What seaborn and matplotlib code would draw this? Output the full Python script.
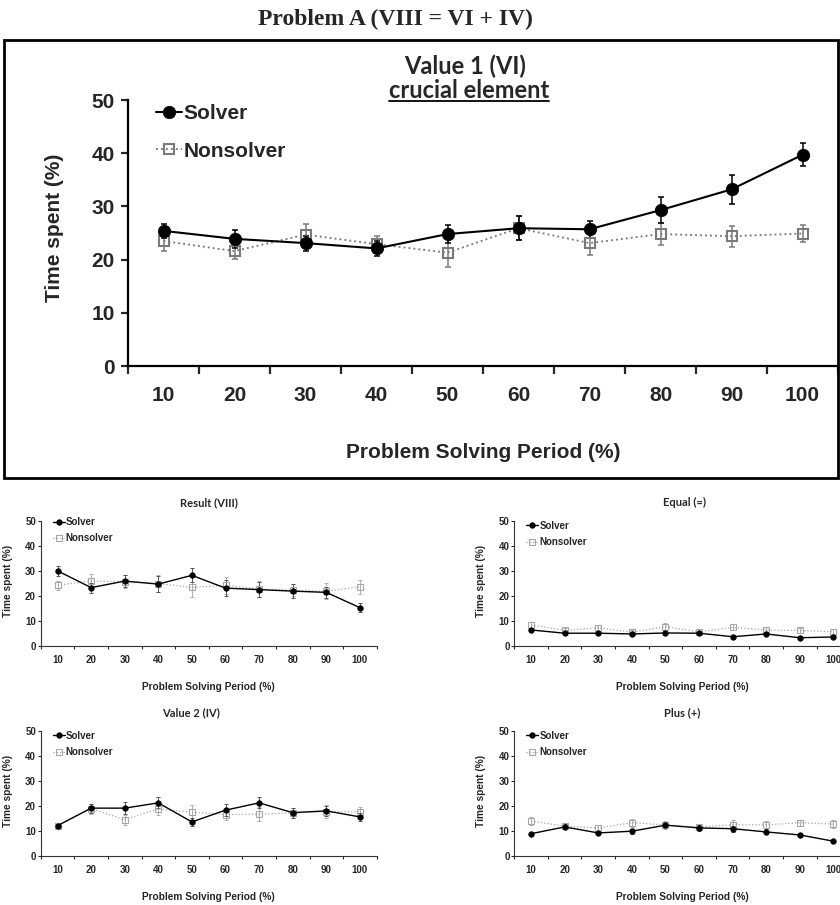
import numpy as np
import pandas as pd
import seaborn as sns
import matplotlib.pyplot as plt
from matplotlib.patches import Rectangle
from matplotlib.lines import Line2D

periods = [10, 20, 30, 40, 50, 60, 70, 80, 90, 100]

# Value 1 (VI) - large panel
v1_solver = [25.4, 23.9, 23.1, 22.1, 24.8, 25.9, 25.7, 29.3, 33.2, 39.7]
v1_solver_err = [1.3, 1.7, 1.4, 1.4, 1.7, 2.3, 1.6, 2.5, 2.7, 2.2]
v1_nonsolver = [23.5, 21.6, 24.7, 22.9, 21.3, 25.9, 23.1, 24.8, 24.4, 24.9]
v1_nonsolver_err = [1.8, 1.5, 2.0, 1.5, 2.6, 2.3, 2.2, 2.1, 2.0, 1.6]

# Result (VIII)
res_solver = [30.0, 23.3, 25.9, 24.7, 28.2, 23.1, 22.5, 21.9, 21.4, 15.3]
res_solver_err = [2.0, 2.0, 2.5, 3.2, 2.8, 3.2, 3.0, 2.8, 2.2, 1.8]
res_nonsolver = [24.3, 25.9, 25.7, 24.9, 23.4, 24.2, 22.7, 22.3, 21.8, 23.7]
res_nonsolver_err = [1.8, 2.7, 2.5, 3.3, 4.0, 3.5, 3.2, 2.5, 3.2, 2.8]

# Equal (=)
eq_solver = [6.4, 5.1, 5.1, 4.8, 5.2, 5.1, 3.7, 4.8, 3.3, 3.6]
eq_solver_err = [0.6, 0.6, 0.6, 0.6, 0.6, 0.6, 0.6, 0.6, 0.6, 0.6]
eq_nonsolver = [8.4, 6.2, 7.3, 5.5, 7.7, 5.7, 7.4, 6.4, 6.2, 5.7]
eq_nonsolver_err = [1.3, 1.0, 1.2, 0.8, 1.3, 0.9, 1.2, 1.0, 1.0, 1.0]

# Value 2 (IV)
v2_solver = [12.1, 19.1, 19.1, 21.2, 13.6, 18.3, 21.2, 17.3, 18.0, 15.6]
v2_solver_err = [0.8, 1.8, 2.5, 2.2, 1.5, 2.5, 2.2, 2.0, 2.0, 1.6]
v2_nonsolver = [12.1, 18.9, 14.5, 18.8, 17.5, 16.5, 16.7, 17.2, 17.7, 17.6]
v2_nonsolver_err = [0.8, 2.0, 2.0, 2.3, 3.0, 2.3, 2.8, 2.0, 2.5, 2.0]

# Plus (+)
plus_solver = [8.9, 11.6, 9.2, 9.9, 12.3, 11.2, 10.9, 9.6, 8.4, 5.9]
plus_solver_err = [0.8, 1.0, 0.9, 1.0, 1.2, 1.2, 1.2, 1.0, 0.8, 0.6]
plus_nonsolver = [14.0, 11.9, 11.2, 13.3, 12.4, 11.6, 12.5, 12.4, 13.3, 12.7]
plus_nonsolver_err = [1.5, 1.2, 1.3, 1.6, 1.5, 1.2, 1.8, 1.4, 1.2, 1.6]

sns.set_style('white')
plt.rcParams['font.family'] = ['Liberation Sans', 'DejaVu Sans']
plt.rcParams['font.weight'] = 'bold'

W, H = 840, 905
fig = plt.figure(figsize=(W / 100, H / 100), dpi=100)


def px_axes(left, top, right, bottom):
    return fig.add_axes([left / W, 1 - bottom / H, (right - left) / W, (bottom - top) / H])


def draw_panel(ax, solver, s_err, nonsolver, n_err, big=False):
    if big:
        ms_c, ms_s, lw, cap, elw, fs, grey, egrey, sgrey = 9, 7.5, 1.5, 2.5, 1.1, 15, '#7a7a7a', '#7a7a7a', 'black'
    else:
        ms_c, ms_s, lw, cap, elw, fs, grey, egrey, sgrey = 4, 4.5, 1.0, 1.5, 0.7, 7, '#a6a6a6', '#b0b0b0', '#555555'
    ax.errorbar(periods, nonsolver, yerr=n_err, fmt='none', ecolor=egrey,
                elinewidth=elw, capsize=cap, capthick=elw, zorder=2)
    ax.errorbar(periods, solver, yerr=s_err, fmt='none', ecolor=sgrey,
                elinewidth=elw, capsize=cap, capthick=elw, zorder=2)
    sns.lineplot(x=periods, y=solver, ax=ax, color='black', marker='o',
                 markersize=ms_c, markeredgecolor='black', markeredgewidth=0.5,
                 linewidth=lw, label='Solver', zorder=4)
    sns.lineplot(x=periods, y=nonsolver, ax=ax, color=grey, linestyle=':',
                 marker='s', markersize=ms_s, markerfacecolor='none',
                 markeredgecolor=grey, markeredgewidth=1.5 if big else 0.8,
                 linewidth=lw * 0.9, label='Nonsolver', zorder=3)

    ax.set_xlim(5, 105)
    ax.set_ylim(0, 50)
    ax.set_yticks(range(0, 51, 10))
    ax.set_xticks(np.arange(5, 106, 10))
    ax.set_xticklabels([])
    ax.set_xticks(periods, minor=True)
    ax.set_xticklabels([str(p) for p in periods], minor=True)
    for s in ['top', 'right']:
        ax.spines[s].set_visible(False)
    spine_w = 1.6 if big else 0.8
    for s in ['left', 'bottom']:
        ax.spines[s].set_color('black' if big else '#333333')
        ax.spines[s].set_linewidth(spine_w)
    if big:
        ax.tick_params(axis='x', which='major', length=6, width=1.6, direction='out', bottom=True)
        ax.tick_params(axis='x', which='minor', length=0, pad=14.5, labelsize=fs)
        ax.tick_params(axis='y', length=5, width=1.6, direction='out', left=True, pad=4.5, labelsize=fs)
    else:
        ax.tick_params(axis='x', which='major', length=2.5, width=0.8, direction='out', bottom=True)
        ax.tick_params(axis='x', which='minor', length=0, pad=6.8, labelsize=fs)
        ax.tick_params(axis='y', length=2.2, width=0.8, direction='out', left=True, pad=1.2, labelsize=fs)
    for lab in ax.get_xticklabels(minor=True) + ax.get_yticklabels():
        lab.set_fontweight('bold')

    ax.set_xlabel('Problem Solving Period (%)', fontsize=fs if big else 7.3,
                  fontweight='bold', va='center')
    ax.set_ylabel('Time spent (%)', fontsize=fs if big else 7.3,
                  fontweight='bold', va='center')
    ax.xaxis.set_label_coords(0.5, -0.327)
    ax.yaxis.set_label_coords(-0.104 if big else -0.098, 0.52)


def add_legend(ax, x, y, big=False):
    if big:
        ax.legend(loc='upper left', bbox_to_anchor=(x, y), frameon=False,
                  prop={'size': 15, 'weight': 'bold'}, handlelength=1.25,
                  handletextpad=0.08, labelspacing=0.9, borderpad=0, borderaxespad=0)
    else:
        ax.legend(loc='upper left', bbox_to_anchor=(x, y), frameon=False,
                  prop={'size': 7, 'weight': 'bold'}, handlelength=1.25,
                  handletextpad=0.1, labelspacing=0.65, borderpad=0, borderaxespad=0)


# big panel
ax_main = px_axes(128, 100, 838, 366)
draw_panel(ax_main, v1_solver, v1_solver_err, v1_nonsolver, v1_nonsolver_err, big=True)
add_legend(ax_main, 28 / 710, 0.985, big=True)

# small panels
small = [
    ((40.7, 520.7), 'Result (VIII)', 0.5, 1.03,
     res_solver, res_solver_err, res_nonsolver, res_nonsolver_err),
    ((514.3, 520.7), 'Equal (=)', 0.508, 1.0,
     eq_solver, eq_solver_err, eq_nonsolver, eq_nonsolver_err),
    ((40.7, 730.7), 'Value 2 (IV)', 0.447, 1.0,
     v2_solver, v2_solver_err, v2_nonsolver, v2_nonsolver_err),
    ((514.3, 730.7), 'Plus (+)', 0.5, 1.0,
     plus_solver, plus_solver_err, plus_nonsolver, plus_nonsolver_err),
]
for (left, top), title, tx, ly, s, se, n, ne in small:
    ax = px_axes(left, top, left + 336, top + 125.3)
    draw_panel(ax, s, se, n, ne)
    add_legend(ax, 12 / 336, ly)
    ax.text(tx, 1.147, title, transform=ax.transAxes, ha='center', va='center',
            fontsize=8, fontweight='bold', family=['Lato', 'DejaVu Sans'])

# frame around the big panel
fig.add_artist(Rectangle((4 / W, 1 - 478 / H), 834 / W, 438 / H, transform=fig.transFigure,
                         fill=False, edgecolor='black', linewidth=2))

fig.text(395 / W, 1 - 19 / H, 'Problem A (VIII = VI + IV)', ha='center', va='center',
         fontsize=17, fontweight='bold', family=['Liberation Serif', 'DejaVu Serif'])
fig.text(465 / W, 1 - 66 / H, 'Value 1 (VI)', ha='center', va='center',
         fontsize=17, fontweight='bold', family=['Lato', 'DejaVu Sans'])
crucial = fig.text(469 / W, 1 - 91 / H, 'crucial element', ha='center', va='center',
                   fontsize=17, fontweight='bold', family=['Lato', 'DejaVu Sans'])

fig.canvas.draw()
bb = crucial.get_window_extent()
inv = fig.transFigure.inverted()
(x0, y0), (x1, _) = inv.transform([[bb.x0, bb.y0], [bb.x1, bb.y0]])
fig.add_artist(Line2D([x0, x1], [y0 + 1 / H, y0 + 1 / H], transform=fig.transFigure,
                      color='black', linewidth=1.3))

fig.savefig('out.png', dpi=100)
